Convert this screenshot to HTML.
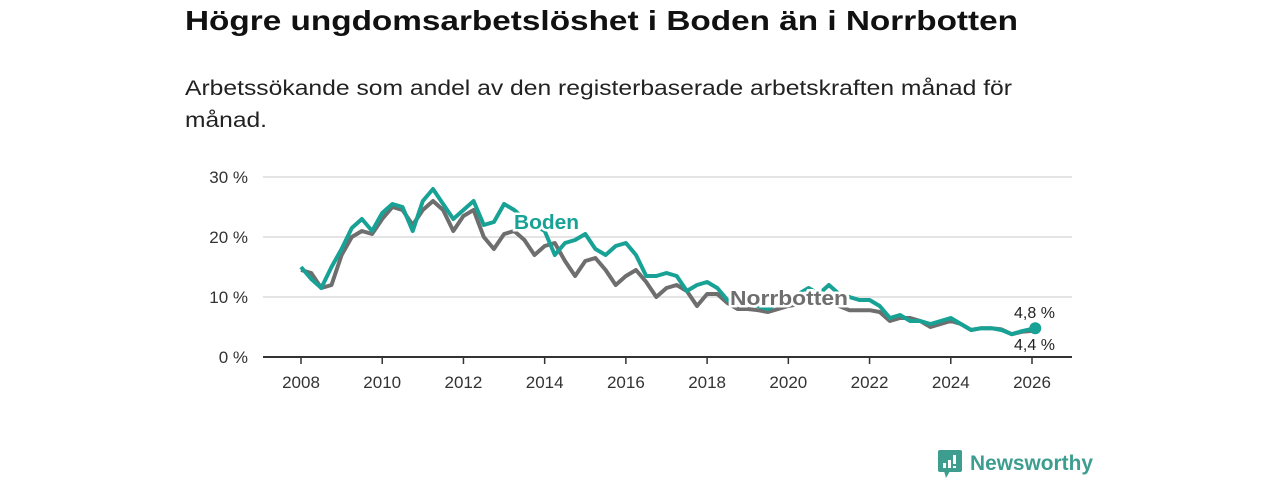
<!DOCTYPE html>
<html><head><meta charset="utf-8"><style>
html,body{margin:0;padding:0;background:#fff;}
svg{display:block;font-family:"Liberation Sans","DejaVu Sans",sans-serif;}
</style></head><body>
<svg id="chart" width="1280" height="480" viewBox="0 0 1280 480">
<text x="185" y="30" font-size="28" font-weight="bold" fill="#111" textLength="833" lengthAdjust="spacingAndGlyphs">Högre ungdomsarbetslöshet i Boden än i Norrbotten</text>
<text x="185" y="95" font-size="21" fill="#222" textLength="827" lengthAdjust="spacingAndGlyphs">Arbetssökande som andel av den registerbaserade arbetskraften månad för</text>
<text x="185" y="127" font-size="21" fill="#222" textLength="82" lengthAdjust="spacingAndGlyphs">månad.</text>
<g id="grid"></g><g id="xaxis"></g><g id="lines"></g><g id="labels"></g>
<g>
<rect x="938" y="450" width="24" height="22" rx="2" fill="#3d9e8f"/>
<polygon points="944,471 950,471 946,478" fill="#3d9e8f"/>
<rect x="943" y="463" width="3" height="5" fill="#fff"/><rect x="948" y="460" width="3" height="8" fill="#fff"/><rect x="953" y="455" width="3" height="9" fill="#fff"/><rect x="953" y="466" width="3" height="2" fill="#fff"/>
<text x="970" y="470" font-size="21" font-weight="bold" fill="#3d9e8f" textLength="123" lengthAdjust="spacingAndGlyphs">Newsworthy</text>
</g>
</svg>
<script>
const years = [2008,2008.25,2008.5,2008.75,2009,2009.25,2009.5,2009.75,2010,2010.25,2010.5,2010.75,2011,2011.25,2011.5,2011.75,2012,2012.25,2012.5,2012.75,2013,2013.25,2013.5,2013.75,2014,2014.25,2014.5,2014.75,2015,2015.25,2015.5,2015.75,2016,2016.25,2016.5,2016.75,2017,2017.25,2017.5,2017.75,2018,2018.25,2018.5,2018.75,2019,2019.25,2019.5,2019.75,2020,2020.25,2020.5,2020.75,2021,2021.25,2021.5,2021.75,2022,2022.25,2022.5,2022.75,2023,2023.25,2023.5,2023.75,2024,2024.25,2024.5,2024.75,2025,2025.25,2025.5,2025.75,2026.08];
const boden = [15,13,11.5,15,18,21.5,23,21,24,25.5,25,21,26,28,25.5,23,24.5,26,22,22.5,25.5,24.5,23,22,21,17,19,19.5,20.5,18,17,18.5,19,17,13.5,13.5,14,13.5,11,12,12.5,11.5,9.5,9,9,8.5,8,9,10,10.5,11.5,10.5,12,10.5,10,9.5,9.5,8.5,6.5,7,6,6,5.5,6,6.5,5.5,4.5,4.8,4.8,4.5,3.8,4.3,4.8];
const norrbotten = [14.5,14,11.5,12,17,20,21,20.5,23,25,24.5,22,24.5,26,24.5,21,23.5,24.5,20,18,20.5,21,19.5,17,18.5,19,16,13.5,16,16.5,14.5,12,13.5,14.5,12.5,10,11.5,12,11,8.5,10.5,10.5,9,8,8,7.8,7.5,8,8.5,8.8,9,9,9,8.5,7.8,7.8,7.8,7.5,6,6.5,6.5,6,5,5.5,6,5.5,4.5,4.8,4.8,4.6,3.8,4.2,4.4];
const yTicks = [0,10,20,30];
const xTicks = [2008,2010,2012,2014,2016,2018,2020,2022,2024,2026];
const NS='http://www.w3.org/2000/svg';
const x = v => 301 + (v-2008)*(1032-301)/18;
const y = v => 357 - v*6;
function mk(tag, attrs, parent){const e=document.createElementNS(NS,tag);for(const k in attrs)e.setAttribute(k,attrs[k]);document.getElementById(parent).appendChild(e);return e;}
yTicks.forEach(t=>{
  if(t>0){const g=mk('line',{x1:263,x2:1072,y1:y(t),y2:y(t),stroke:'#dcdcdc','stroke-width':1.5},'grid');
  
  }
  const l=mk('text',{x:248,y:y(t)+6,'font-size':17,fill:'#333','text-anchor':'end'},'grid');
  l.textContent=t+' %';
  
  
});
const ax=mk('line',{x1:263,x2:1072,y1:357,y2:357,stroke:'#333','stroke-width':2},'xaxis');


xTicks.forEach(t=>{
  mk('line',{x1:x(t),x2:x(t),y1:357,y2:364,stroke:'#333','stroke-width':1.5},'xaxis');
  const l=mk('text',{x:x(t),y:388,'font-size':17,fill:'#333','text-anchor':'middle'},'xaxis');
  l.textContent=t;
  
  
});
function path(vals){return vals.map((v,i)=>(i?'L':'M')+x(years[i]).toFixed(1)+','+y(v).toFixed(1)).join('');}
const pn=mk('path',{d:path(norrbotten),fill:'none',stroke:'#6e6e6e','stroke-width':4,'stroke-linejoin':'round'},'lines');


const pb=mk('path',{d:path(boden),fill:'none',stroke:'#17a295','stroke-width':4,'stroke-linejoin':'round'},'lines');


const last=years.length-1;
const dot=mk('circle',{cx:x(years[last]),cy:y(boden[last]),r:6,fill:'#17a295'},'lines');


function lab(txt,xx,yy,col,name,size,bold,len){
  const t=mk('text',{x:xx,y:yy,'font-size':size,fill:col,'font-weight':bold?'bold':'normal',stroke:'#fff','stroke-width':bold?5:0,'paint-order':'stroke'},'labels');
  if(len){t.setAttribute('textLength',len);t.setAttribute('lengthAdjust','spacingAndGlyphs');}
  t.textContent=txt;
  
  
}
lab('Boden',514,229,'#17a295','boden-label',20,true,65);
lab('Norrbotten',730,305,'#6e6e6e','norrbotten-label',20,true,118);
lab(String(boden[last]).replace('.',',')+' %',1014,318,'#222','boden-end-value',16,false);
lab(String(norrbotten[last]).replace('.',',')+' %',1014,350,'#222','norrbotten-end-value',16,false);
</script>
</body></html>
